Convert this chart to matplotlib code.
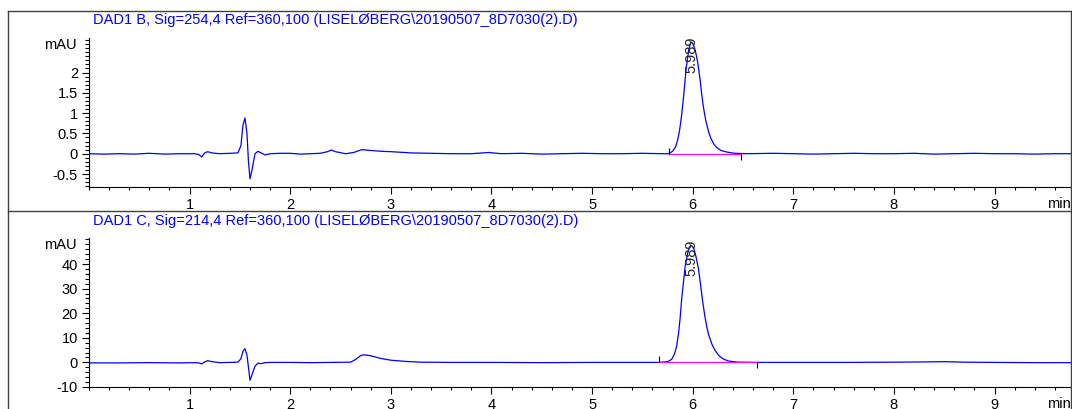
import matplotlib.pyplot as plt
from matplotlib.lines import Line2D
from matplotlib.ticker import MultipleLocator, FuncFormatter

# signal B (254 nm), (time min, mAU)
sig_b = [(0.00, 0.00), (0.15, -0.01), (0.30, 0.00), (0.45, -0.01), (0.60, 0.01), (0.75, -0.01),
         (0.90, 0.00), (1.05, 0.00), (1.09, -0.02), (1.12, -0.08), (1.15, 0.02), (1.18, 0.05),
         (1.22, 0.02), (1.30, 0.00), (1.40, 0.01), (1.48, 0.02), (1.51, 0.20), (1.53, 0.70),
         (1.55, 0.88), (1.57, 0.50), (1.585, -0.20), (1.60, -0.62), (1.62, -0.40), (1.65, 0.00),
         (1.68, 0.06), (1.71, 0.02), (1.75, -0.03), (1.80, 0.00), (1.90, 0.01), (2.00, 0.01),
         (2.10, -0.01), (2.20, 0.00), (2.30, 0.01), (2.37, 0.05), (2.41, 0.09), (2.45, 0.05),
         (2.55, 0.00), (2.63, 0.03), (2.71, 0.10), (2.80, 0.08), (2.90, 0.06), (3.00, 0.05),
         (3.20, 0.02), (3.40, 0.01), (3.60, 0.00), (3.80, 0.00), (3.97, 0.03), (4.10, 0.00),
         (4.30, 0.01), (4.50, -0.01), (4.70, 0.00), (4.90, 0.01), (5.10, 0.00), (5.30, 0.00),
         (5.50, 0.01), (5.70, 0.00), (5.76, 0.00), (5.80, 0.06), (5.83, 0.17), (5.85, 0.33),
         (5.87, 0.58), (5.89, 0.95), (5.91, 1.42), (5.935, 2.10), (5.96, 2.55), (5.975, 2.70),
         (5.989, 2.75), (6.005, 2.70), (6.025, 2.55), (6.05, 2.25), (6.075, 1.80), (6.09, 1.45),
         (6.11, 1.10), (6.13, 0.82), (6.157, 0.55), (6.18, 0.38), (6.21, 0.24), (6.24, 0.15),
         (6.28, 0.08), (6.34, 0.04), (6.42, 0.01), (6.55, 0.00), (6.80, 0.01), (7.00, 0.00),
         (7.20, -0.01), (7.40, 0.00), (7.60, 0.01), (7.80, 0.00), (8.00, 0.00), (8.20, 0.01),
         (8.40, -0.01), (8.60, 0.00), (8.80, 0.01), (9.00, 0.00), (9.20, 0.00), (9.40, -0.01),
         (9.60, 0.00), (9.76, 0.00)]

# signal C (214 nm)
sig_c = [(0.00, -0.2), (0.30, -0.2), (0.60, -0.1), (0.90, -0.2), (1.05, -0.1), (1.09, -0.2),
         (1.12, -0.6), (1.15, 0.2), (1.18, 0.7), (1.22, 0.3), (1.30, -0.1), (1.40, 0.0),
         (1.48, 0.1), (1.51, 1.5), (1.53, 4.5), (1.55, 5.6), (1.57, 3.0), (1.585, -2.0),
         (1.60, -7.3), (1.62, -5.0), (1.65, -1.5), (1.68, -0.3), (1.71, -0.5), (1.75, -0.1),
         (1.80, 0.0), (2.00, 0.0), (2.20, -0.1), (2.40, 0.0), (2.60, 0.1), (2.65, 1.2),
         (2.70, 2.8), (2.73, 3.1), (2.80, 2.7), (2.90, 1.6), (3.00, 0.9), (3.15, 0.4),
         (3.30, 0.1), (3.60, 0.0), (4.00, 0.0), (4.50, -0.1), (5.00, 0.0), (5.40, 0.0),
         (5.67, 0.0), (5.75, 0.3), (5.79, 1.2), (5.82, 3.5), (5.84, 6.5), (5.86, 12.0),
         (5.875, 18.0), (5.89, 25.5), (5.905, 31.5), (5.925, 39.0), (5.95, 44.5), (5.97, 47.0),
         (5.989, 47.5), (6.01, 46.5), (6.03, 43.5), (6.058, 38.0), (6.08, 31.0), (6.097, 25.5),
         (6.12, 19.0), (6.14, 14.5), (6.157, 11.5), (6.19, 7.5), (6.22, 5.0), (6.26, 2.8),
         (6.30, 1.5), (6.35, 0.6), (6.45, 0.1), (6.64, 0.0), (7.00, 0.0), (7.50, 0.0),
         (8.00, 0.1), (8.30, 0.2), (8.50, 0.3), (8.70, 0.1), (9.00, 0.0), (9.40, -0.1),
         (9.76, -0.1)]

titles = ["DAD1 B, Sig=254,4 Ref=360,100 (LISELØBERG\\20190507_8D7030(2).D)",
          "DAD1 C, Sig=214,4 Ref=360,100 (LISELØBERG\\20190507_8D7030(2).D)"]
peak_rt = [5.989, 5.989]
peak_apex = [2.75, 47.5]
integ_start = [5.76, 5.67]
integ_end = [6.48, 6.64]
ylims = [(-0.82, 2.85), (-10, 50.6)]
yticks_b = [-0.5, 0, 0.5, 1, 1.5, 2]
yticks_c = [-10, 0, 10, 20, 30, 40]
xticks = [1, 2, 3, 4, 5, 6, 7, 8, 9]
y_minor = [0.1, 2]

plt.rcParams['font.family'] = ['Liberation Sans', 'DejaVu Sans']
plt.rcParams['axes.unicode_minus'] = False
FS = 10.5

fig = plt.figure(figsize=(10.72, 4.09), dpi=100)

# outer frames like the ChemStation report
frame_col = '#404040'
W, H = 1072, 409
def px_line(x0, y0, x1, y1):
    fig.add_artist(Line2D([x0 / W, x1 / W], [1 - y0 / H, 1 - y1 / H], color=frame_col, lw=1.0))
px_line(8, 11, 1071, 11)
px_line(8, 211, 1071, 211)
px_line(8, 11, 8, 409)
px_line(1071, 11, 1071, 409)

ax_pos = [[89 / W, 1 - 187 / H, 982 / W, 149 / H],
          [89 / W, 1 - 387 / H, 982 / W, 149 / H]]
title_y = [1 - 20 / H, 1 - 221 / H]

for i, sig in enumerate([sig_b, sig_c]):
    ax = fig.add_axes(ax_pos[i])
    t = [p[0] for p in sig]
    v = [p[1] for p in sig]
    ax.plot(t, v, color='#0000ff', lw=0.9)
    # integration baseline and event ticks
    ax.plot([integ_start[i], integ_end[i]], [0, 0], color='#ff00ff', lw=0.9)
    ax.plot([integ_start[i]], [0], marker=[(0, 0), (0, 1)], ms=8, color='black', mew=0.8)
    ax.plot([integ_end[i]], [0], marker=[(0, 0), (0, -1)], ms=8, color='black', mew=0.8)
    ax.annotate(f"{peak_rt[i]:.3f}", xy=(peak_rt[i], peak_apex[i]), xytext=(0, -22),
                textcoords='offset points', rotation=90, ha='center', va='bottom',
                fontsize=FS, color='#202020')

    ax.set_xlim(0, 9.76)
    ax.set_ylim(*ylims[i])
    ax.set_xticks(xticks)
    ax.xaxis.set_minor_locator(MultipleLocator(0.2))
    ax.set_yticks([yticks_b, yticks_c][i])
    ax.yaxis.set_minor_locator(MultipleLocator(y_minor[i]))
    ax.yaxis.set_major_formatter(FuncFormatter(lambda val, pos: f"{val:g}"))
    ax.tick_params(which='major', length=5, width=0.8, labelsize=FS, pad=3)
    ax.tick_params(which='minor', length=2.5, width=0.8)
    ax.tick_params(axis='y', which='minor', length=3)
    for s in ['top', 'right']:
        ax.spines[s].set_visible(False)
    for s in ['left', 'bottom']:
        ax.spines[s].set_linewidth(0.8)

    ax.text(-0.013, 0.95, 'mAU', transform=ax.transAxes, ha='right', va='center', fontsize=FS)
    ax.text(1.0, -0.115, 'min', transform=ax.transAxes, ha='right', va='center', fontsize=FS)
    fig.text(93 / W, title_y[i], titles[i], color='#0000ff', fontsize=FS, ha='left', va='center')

fig.savefig('out.png', dpi=100)
